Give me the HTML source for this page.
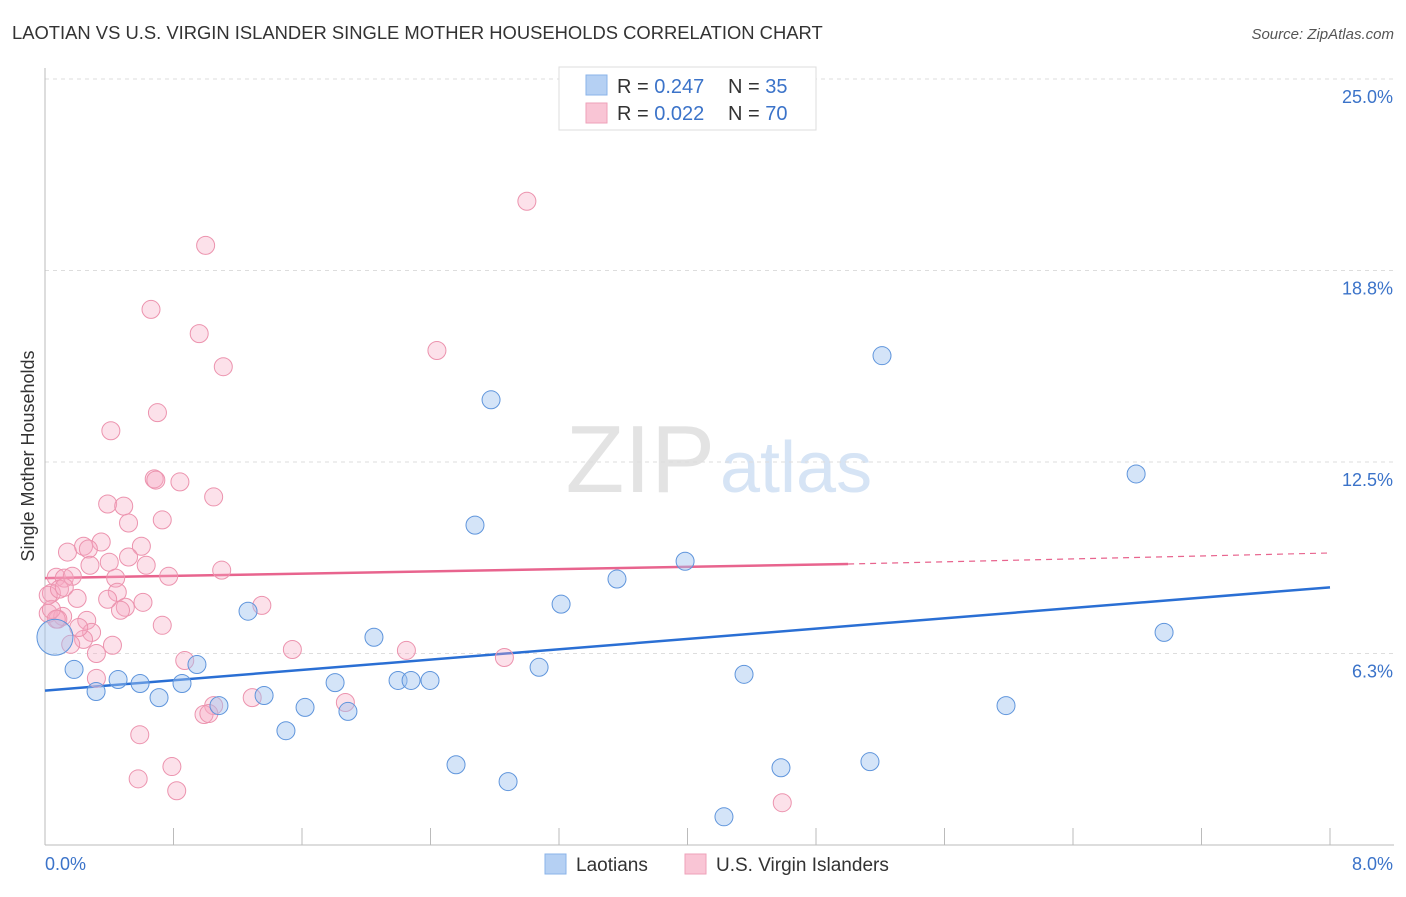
<!DOCTYPE html>
<html><head><meta charset="utf-8"><style>
body{margin:0;background:#fff;font-family:"Liberation Sans",sans-serif;}
svg text{font-family:"Liberation Sans",sans-serif;}
</style></head><body>
<svg width="1406" height="892" viewBox="0 0 1406 892">
<text x="12" y="39" font-size="18.4" fill="#333">LAOTIAN VS U.S. VIRGIN ISLANDER SINGLE MOTHER HOUSEHOLDS CORRELATION CHART</text>
<text x="1394" y="39" font-size="15" fill="#555" font-style="italic" text-anchor="end">Source: ZipAtlas.com</text>
<text x="0" y="0" font-size="18" fill="#333" text-anchor="middle" transform="translate(34,456) rotate(-90)">Single Mother Households</text>
<text x="715" y="492" font-size="96" fill="#e3e3e3" text-anchor="end" font-family="Liberation Serif">ZIP</text>
<text x="720" y="492" font-size="72" fill="#d6e4f5">atlas</text>
<g id="grid"></g><g id="axes"></g><g id="trend"></g><g id="pts"></g>
<g>
<rect x="559" y="67" width="257" height="63" fill="#fff" stroke="#ddd"/>
<rect x="586" y="75" width="21" height="20" fill="#b5d0f3" stroke="#8ab3e8"/>
<rect x="586" y="103" width="21" height="20" fill="#f9c5d5" stroke="#eea1b9"/>
<text x="617" y="93" font-size="20" fill="#333">R = <tspan fill="#3b73c9">0.247</tspan></text>
<text x="728" y="93" font-size="20" fill="#333">N = <tspan fill="#3b73c9">35</tspan></text>
<text x="617" y="120" font-size="20" fill="#333">R = <tspan fill="#3b73c9">0.022</tspan></text>
<text x="728" y="120" font-size="20" fill="#333">N = <tspan fill="#3b73c9">70</tspan></text>
</g>
<g>
<rect x="545" y="854" width="21" height="20" fill="#b5d0f3" stroke="#8ab3e8"/>
<text x="576" y="871" font-size="19" fill="#333">Laotians</text>
<rect x="685" y="854" width="21" height="20" fill="#f9c5d5" stroke="#eea1b9"/>
<text x="716" y="871" font-size="19" fill="#333">U.S. Virgin Islanders</text>
</g>
</svg>
<script>
const yTicks=[25,18.75,12.5,6.25];
const yTickLabels=["25.0%","18.8%","12.5%","6.3%"];
const xTickVals=[0,0.8,1.6,2.4,3.2,4,4.8,5.6,6.4,7.2,8];
const blueX=[0.062,0.181,0.318,0.455,0.592,0.710,0.853,0.946,1.083,1.264,1.364,1.500,1.619,1.806,1.886,2.048,2.198,2.279,2.397,2.559,2.677,2.777,2.883,3.076,3.213,3.561,3.985,4.227,4.352,4.582,5.136,5.211,5.983,6.793,6.967];
const blueY=[6.78,5.73,5.01,5.40,5.27,4.81,5.27,5.89,4.55,7.63,4.88,3.73,4.49,5.30,4.36,6.78,5.37,5.37,5.37,2.62,10.44,14.53,2.07,5.80,7.86,8.68,9.26,0.92,5.57,2.52,2.72,15.97,4.55,12.11,6.94];
const pinkX=[3.00,1.00,0.66,0.96,1.11,2.44,0.70,0.41,0.68,0.69,0.84,1.05,0.39,0.49,0.73,0.52,0.35,0.14,0.24,0.60,0.27,0.52,0.40,0.28,0.63,1.10,0.07,0.12,0.17,0.44,0.77,0.04,0.45,0.20,0.61,0.50,1.35,0.47,0.02,0.11,0.26,0.29,0.73,0.08,0.24,0.42,0.32,1.54,2.25,2.86,0.87,1.05,0.99,1.02,1.29,1.87,0.32,0.59,0.58,0.79,0.82,4.59,0.04,0.21,0.02,0.09,0.07,0.12,0.16,0.39];
const pinkY=[21.01,19.57,17.48,16.69,15.61,16.14,14.11,13.52,11.95,11.91,11.85,11.36,11.13,11.06,10.61,10.51,9.89,9.56,9.75,9.75,9.66,9.40,9.23,9.13,9.13,8.97,8.74,8.71,8.77,8.71,8.77,8.22,8.25,8.05,7.92,7.76,7.82,7.66,7.56,7.46,7.33,6.94,7.17,7.37,6.71,6.52,6.25,6.38,6.35,6.12,6.02,4.55,4.26,4.29,4.81,4.65,5.44,3.60,2.16,2.56,1.77,1.38,7.69,7.10,8.15,8.35,7.37,8.41,6.55,8.02];
const blueTrend=[5.04,8.41];
const pinkTrend=[8.71,9.17,9.53];
const pinkTrendX=[0,5.0,8];
const NS="http://www.w3.org/2000/svg";
const X=v=>45+v/8*1285;
const Y=v=>845-v/6.25*191.5;
function mk(tag,attrs,parent){const e=document.createElementNS(NS,tag);for(const k in attrs)e.setAttribute(k,attrs[k]);document.getElementById(parent).appendChild(e);return e;}
yTicks.forEach((t,i)=>{
 const l=mk('line',{x1:45,x2:1394,y1:Y(t),y2:Y(t),stroke:'#ddd','stroke-dasharray':'4,4'},'grid');
 
 
 const tx=mk('text',{x:1393,y:Y(t)+24,'font-size':18,fill:'#3b73c9','text-anchor':'end'},'grid');
 tx.textContent=yTickLabels[i];
 
 
});
const ax=mk('line',{x1:45,x2:45,y1:68,y2:845,stroke:'#bbb'},'axes');


const bx=mk('line',{x1:45,x2:1394,y1:845,y2:845,stroke:'#bbb'},'axes');


xTickVals.forEach(v=>{
 const t=mk('line',{x1:X(v),x2:X(v),y1:828,y2:845,stroke:'#bbb'},'axes');
 
 
});
const xl0=mk('text',{x:45,y:870,'font-size':18,fill:'#3b73c9'},'axes');xl0.textContent='0.0%';


const xl1=mk('text',{x:1393,y:870,'font-size':18,fill:'#3b73c9','text-anchor':'end'},'axes');xl1.textContent='8.0%';


pinkX.forEach((v,i)=>{
 const c=mk('circle',{cx:X(v),cy:Y(pinkY[i]),r:9,fill:'rgba(246,168,194,0.35)',stroke:'#ec93ae','stroke-width':1},'pts');
 
 
});
blueX.forEach((v,i)=>{
 const c=mk('circle',{cx:X(v),cy:Y(blueY[i]),r:i===0?18:9,fill:'rgba(160,196,240,0.45)',stroke:'#5f95dc','stroke-width':1},'pts');
 
 
});
const bt=mk('line',{x1:X(0),y1:Y(blueTrend[0]),x2:X(8),y2:Y(blueTrend[1]),stroke:'#2a6fd4','stroke-width':2.5},'trend');


const pt=mk('line',{x1:X(pinkTrendX[0]),y1:Y(pinkTrend[0]),x2:X(pinkTrendX[1]),y2:Y(pinkTrend[1]),stroke:'#e8648e','stroke-width':2.5},'trend');


const pd=mk('line',{x1:X(pinkTrendX[1]),y1:Y(pinkTrend[1]),x2:X(pinkTrendX[2]),y2:Y(pinkTrend[2]),stroke:'#e8648e','stroke-width':1.2,'stroke-dasharray':'6,5'},'trend');


</script>
</body></html>
